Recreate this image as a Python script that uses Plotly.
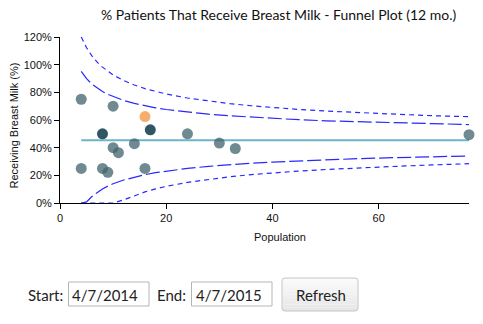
import plotly.graph_objects as go

# Unit populations and share of patients receiving breast milk (%)
population = [4, 4, 8, 8, 9, 10, 10, 11, 14, 16, 16, 17, 24, 30, 33, 77]
pct_received = [75.0, 25.0, 50.0, 25.0, 22.2, 70.0, 40.0, 36.4, 42.9,
                62.5, 25.0, 52.9, 50.0, 43.3, 39.4, 49.4]
status = ["normal", "normal", "flag", "normal", "normal", "normal", "normal",
          "normal", "normal", "alert", "normal", "flag", "normal", "normal",
          "normal", "normal"]

# Overall mean and control limits (2 SD and 3 SD) along the population axis
mean_pct = 45.4
limit_n = [4, 5, 6, 7, 8, 9, 10, 12, 14, 16, 18, 20, 24, 28, 32, 36, 40,
           45, 50, 55, 60, 65, 70, 77]
upper_2sd = [95.1, 89.9, 86.0, 83.0, 80.6, 78.6, 76.9, 74.1, 72.0, 70.3, 68.8,
             67.6, 65.7, 64.2, 63.0, 62.0, 61.1, 60.2, 59.4, 58.8, 58.2, 57.7,
             57.3, 56.7]
lower_2sd = [0.0, 0.8, 4.7, 7.7, 10.2, 12.2, 13.9, 16.6, 18.8, 20.5, 21.9,
             23.1, 25.0, 26.5, 27.8, 28.8, 29.6, 30.5, 31.3, 31.9, 32.5, 33.0,
             33.5, 34.0]
upper_3sd = [120.0, 112.2, 106.3, 101.8, 98.2, 95.1, 92.6, 88.5, 85.3, 82.7,
             80.6, 78.8, 75.9, 73.6, 71.8, 70.3, 69.0, 67.6, 66.5, 65.5, 64.6,
             63.9, 63.1, 62.4]
lower_3sd = [0.0, 0.0, 0.0, 0.0, 0.0, 0.0, 0.0, 2.3, 5.4, 8.0, 10.2, 12.0,
             14.9, 17.1, 19.0, 20.5, 21.8, 23.1, 24.2, 25.2, 26.1, 26.8, 27.5,
             28.4]

y_ticks = [0, 20, 40, 60, 80, 100, 120]
y_tick_labels = ["0%", "20%", "40%", "60%", "80%", "100%", "120%"]
x_ticks = [0, 20, 40, 60]
x_tick_labels = ["0", "20", "40", "60"]

title_text = "% Patients That Receive Breast Milk - Funnel Plot (12 mo.)"
x_title = "Population"
y_title = "Receiving Breast Milk (%)"
start_date = "4/7/2014"
end_date = "4/7/2015"

marker_colors = {
    "normal": "rgba(63,99,108,0.75)",
    "flag": "rgba(38,77,91,0.95)",
    "alert": "rgba(245,160,82,0.85)",
}

W, H = 483, 324
L, R, T, B = 60, 14, 37, 121
PW, PH = W - L - R, H - T - B


def px(x):
    return (x - L) / PW


def py(y):
    return (T + PH - y) / PH


fig = go.Figure()

limit_lines = [
    (upper_3sd, "5px,4px"),
    (lower_3sd, "5px,4px"),
    (upper_2sd, "14px,4px"),
    (lower_2sd, "14px,4px"),
]
for values, dash in limit_lines:
    fig.add_trace(go.Scatter(
        x=limit_n, y=values, mode="lines",
        line=dict(color="rgb(40,40,255)", width=1.2, dash=dash),
        hoverinfo="skip", showlegend=False))

fig.add_trace(go.Scatter(
    x=[limit_n[0], limit_n[-1]], y=[mean_pct, mean_pct], mode="lines",
    line=dict(color="#6db4c8", width=2), hoverinfo="skip", showlegend=False))

fig.add_trace(go.Scatter(
    x=population, y=pct_received, mode="markers",
    marker=dict(size=11, color=[marker_colors[s] for s in status],
                line=dict(width=0)),
    cliponaxis=False, showlegend=False))

axis_font = dict(family="Liberation Sans, Arial, sans-serif", size=11,
                 color="#111111")
fig.update_xaxes(
    range=[0, 77], tickmode="array", tickvals=x_ticks, ticktext=x_tick_labels,
    ticks="outside", ticklen=5,
    tickcolor="black", showline=True, linecolor="black", linewidth=1,
    showgrid=False, zeroline=False, tickfont=axis_font)
fig.update_yaxes(
    range=[0, 120], tickmode="array", tickvals=y_ticks, ticktext=y_tick_labels,
    ticks="outside",
    ticklen=5, tickcolor="black", showline=True, linecolor="black",
    linewidth=1, showgrid=False, zeroline=False, tickfont=axis_font)

ui_font = dict(family="Lato, Open Sans, sans-serif", size=15, color="#222222")
annotations = [
    dict(text=title_text, x=px(279), y=py(14), xanchor="center",
         yanchor="middle",
         font=dict(family="Lato, Open Sans, sans-serif", size=14,
                   color="#111111")),
    dict(text=x_title, x=px(280), y=py(237), xanchor="center",
         yanchor="middle", font=axis_font),
    dict(text=y_title, x=px(13), y=py(125.5), xanchor="center",
         yanchor="middle", textangle=-90, font=axis_font),
    dict(text="Start:", x=px(64.5), y=py(295), xanchor="right",
         yanchor="middle", font=ui_font),
    dict(text=start_date, x=px(70), y=py(295), xanchor="left",
         yanchor="middle", font=ui_font),
    dict(text="End:", x=px(188), y=py(295), xanchor="right",
         yanchor="middle", font=ui_font),
    dict(text=end_date, x=px(193.5), y=py(295), xanchor="left",
         yanchor="middle", font=ui_font),
    dict(text="Refresh", x=px(320.5), y=py(295), xanchor="center",
         yanchor="middle", font=ui_font),
]
for a in annotations:
    a.update(xref="paper", yref="paper", showarrow=False)

shapes = []
# date input boxes
for x0, x1 in [(68.5, 149), (191.5, 272)]:
    shapes.append(dict(type="rect", xref="paper", yref="paper",
                       x0=px(x0), x1=px(x1), y0=py(306), y1=py(282),
                       line=dict(color="#b5b5b5", width=1),
                       fillcolor="white"))
# refresh button with a light vertical gradient
bx0, bx1, by0, by1 = 282, 358, 278, 311
steps = 10
for i in range(steps):
    ya = by0 + (by1 - by0) * i / steps
    yb = by0 + (by1 - by0) * (i + 1) / steps
    g = int(252 - 22 * (i + 0.5) / steps)
    shapes.append(dict(type="rect", xref="paper", yref="paper",
                       x0=px(bx0 + 0.5), x1=px(bx1 - 0.5), y0=py(yb),
                       y1=py(ya), line=dict(width=0),
                       fillcolor=f"rgb({g},{g},{g})"))
r = 3
path = (f"M {px(bx0 + r)},{py(by0)} L {px(bx1 - r)},{py(by0)} "
        f"Q {px(bx1)},{py(by0)} {px(bx1)},{py(by0 + r)} "
        f"L {px(bx1)},{py(by1 - r)} Q {px(bx1)},{py(by1)} {px(bx1 - r)},{py(by1)} "
        f"L {px(bx0 + r)},{py(by1)} Q {px(bx0)},{py(by1)} {px(bx0)},{py(by1 - r)} "
        f"L {px(bx0)},{py(by0 + r)} Q {px(bx0)},{py(by0)} {px(bx0 + r)},{py(by0)} Z")
shapes.append(dict(type="path", xref="paper", yref="paper", path=path,
                   line=dict(color="#c4c4c4", width=1)))

fig.update_layout(
    width=W, height=H,
    margin=dict(l=L, r=R, t=T, b=B, pad=0),
    paper_bgcolor="white", plot_bgcolor="white",
    annotations=annotations, shapes=shapes, showlegend=False)

fig.write_html("out.html", config={"displayModeBar": False})
